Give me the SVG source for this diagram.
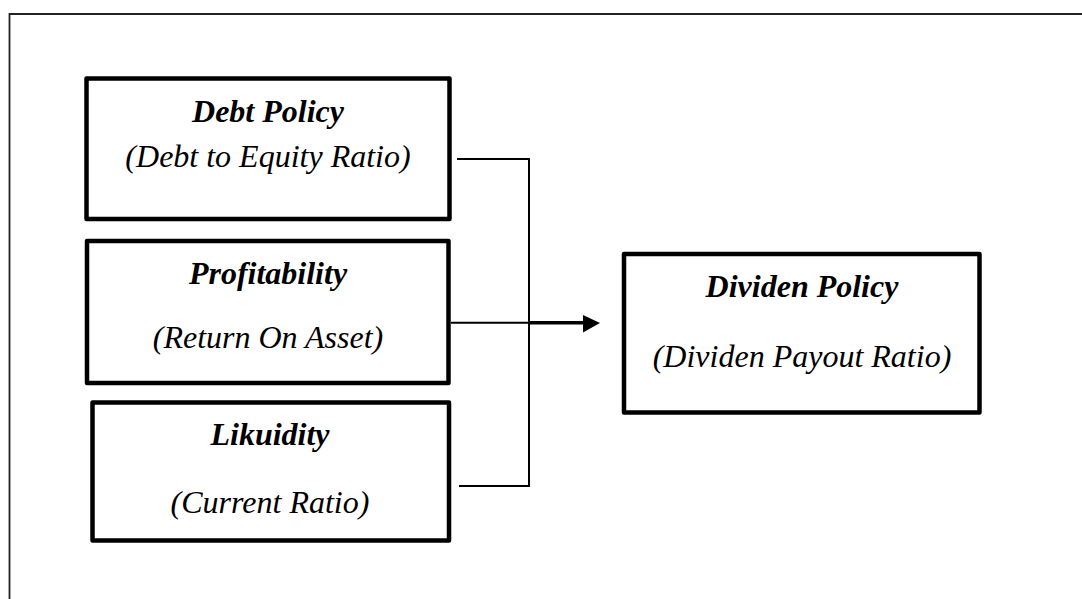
<svg xmlns="http://www.w3.org/2000/svg" width="1082" height="599" viewBox="0 0 1082 599">
<style>
.box{fill:#fff;stroke:#000;stroke-width:4.5;stroke-linejoin:round}
.t1{font-family:"Liberation Serif","Times New Roman",serif;font-size:32px;font-weight:bold;font-style:italic;text-anchor:middle;fill:#000}
.t2{font-family:"Liberation Serif","Times New Roman",serif;font-size:32px;font-style:italic;text-anchor:middle;fill:#000}
.ln{fill:none;stroke:#000;stroke-width:2}
</style>
<rect width="1082" height="599" fill="#fff"/>
<path d="M9.5,700 V14 H1100" fill="none" stroke="#222" stroke-width="1.8"/>
<g id="debt">
<rect class="box" x="86.5" y="78.5" width="363" height="140.5"/>
<text class="t1" x="268" y="122">Debt Policy</text>
<text class="t2" x="268" y="167">(Debt to Equity Ratio)</text>
</g>
<g id="profit">
<rect class="box" x="87" y="241" width="361.5" height="142"/>
<text class="t1" x="268" y="284">Profitability</text>
<text class="t2" x="268" y="348">(Return On Asset)</text>
</g>
<g id="liquid">
<rect class="box" x="92.5" y="402.5" width="356.5" height="138"/>
<text class="t1" x="270" y="445">Likuidity</text>
<text class="t2" x="270" y="513">(Current Ratio)</text>
</g>
<g id="dividen">
<rect class="box" x="624" y="254" width="355.5" height="158.5"/>
<text class="t1" x="802" y="297">Dividen Policy</text>
<text class="t2" x="802" y="367">(Dividen Payout Ratio)</text>
</g>
<g id="connectors">
<path class="ln" d="M457,159 H529 V486 H459"/>
<path class="ln" d="M451,322.7 H529"/>
<path d="M529,322.7 H585" fill="none" stroke="#000" stroke-width="3.5"/>
<polygon points="583,315 600,323 583,332.5" fill="#000"/>
</g>
</svg>
